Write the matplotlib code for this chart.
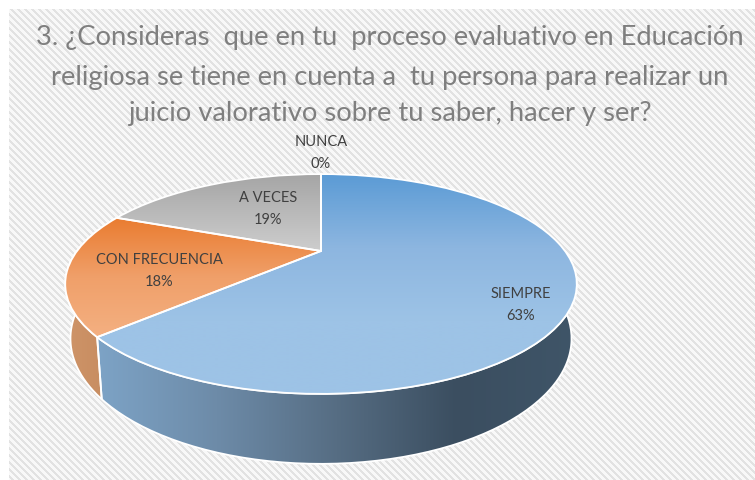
import numpy as np
import matplotlib
matplotlib.use("Agg")
import matplotlib.pyplot as plt
from matplotlib.path import Path
from matplotlib.patches import PathPatch
from matplotlib.transforms import Transform
from matplotlib.colors import LinearSegmentedColormap

categories = ["SIEMPRE", "CON FRECUENCIA", "A VECES", "NUNCA"]
values = [63, 18, 19, 0]
percent_labels = ["63%", "18%", "19%", "0%"]
title_lines = ["3. ¿Consideras  que en tu  proceso evaluativo en Educación",
               "religiosa se tiene en cuenta a  tu persona para realizar un",
               "juicio valorativo sobre tu saber, hacer y ser?"]

W, H = 755, 481
plt.rcParams['font.family'] = ['Lato', 'DejaVu Sans']
fig = plt.figure(figsize=(W / 100, H / 100), dpi=100)
ax = fig.add_axes([0, 0, 1, 1])


class Persp(Transform):
    """Maps the unit disc of the pie to pixel coordinates, tilted with perspective."""
    input_dims = output_dims = 2

    def __init__(self, cx, cy, a, b, k):
        super().__init__()
        self.p = (cx, cy, a, b, k)

    def transform_non_affine(self, xy):
        cx, cy, a, b, k = self.p
        xy = np.asarray(xy, float)
        d = 1 + k * xy[:, 1]
        return np.column_stack([cx + a * xy[:, 0] / d, cy - b * xy[:, 1] / d])


top_T = Persp(321, 252, 244, 100, 0.30)
low_T = Persp(321, 302, 239, 114, 0.30)

# top faces, from the library's pie
wedges, _ = ax.pie(values, startangle=90, counterclock=False, radius=1,
                   colors=["#5b9bd5", "#ed7d31", "#a5a5a5", "#ffc000"],
                   wedgeprops=dict(edgecolor="white", linewidth=1.3, zorder=5))
ax.set_aspect("auto")
ax.set_frame_on(False)
ax.set_xticks([]); ax.set_yticks([])
ax.set_xlim(0, W)
ax.set_ylim(H, 0)
for w in wedges:
    w.set_transform(top_T + ax.transData)
    w.set_facecolor("none")


def gradient(colors, extent, clip, horizontal=False, z=4):
    cmap = LinearSegmentedColormap.from_list("g", colors)
    g = np.linspace(0, 1, 256)
    g = g[None, :] if horizontal else g[:, None]
    im = ax.imshow(g, cmap=cmap, extent=extent, aspect="auto", zorder=z, interpolation="bilinear")
    im.set_clip_path(clip)


# page background: white margin, stripes inside
yy, xx = np.mgrid[0:H, 0:W]
stripes = np.where(((xx - yy) % 7) < 3, 0.885, 0.97)
stripes[:10, :] = 1
stripes[:, :9] = 1
ax.imshow(stripes, cmap="gray", vmin=0, vmax=1, extent=(0, W, H, 0), aspect="auto",
          zorder=0, interpolation="nearest")

# side walls, following the slices
fractions = np.cumsum([0] + values) / sum(values)
angles = 2 * np.pi * fractions


def wall(a0, a1):
    t = np.linspace(a0, a1, 120)
    unit = np.column_stack([np.sin(t), np.cos(t)])
    upper = top_T.transform_non_affine(unit)
    lower = low_T.transform_non_affine(unit)[::-1]
    return Path(np.vstack([upper, lower, upper[:1]]))


side_colors = [["#7da3c6", "#6d8ba8", "#566d83", "#3b4e60", "#3f5568"],
               ["#cf9468", "#c48a5e"]]
for i, cols in enumerate(side_colors):
    start = max(angles[i], np.pi / 2)
    p = wall(start, angles[i + 1])
    xs = p.vertices[:, 0]
    patch = PathPatch(p, facecolor="none", edgecolor="white", linewidth=1.3, zorder=3)
    ax.add_patch(patch)
    gradient(cols, (xs.min(), xs.max(), H, 0), patch, horizontal=True, z=2)

# top-face gradients, each across its own slice height
face_colors = [["#5b9bd5", "#8db6e0", "#9dc3e6", "#9dc3e6"],
               ["#e97a2d", "#f0a06a", "#f4b183"],
               ["#a5a5a5", "#cdcdcd"]]
face_spans = [(395, 175), (342, 215), (252, 175)]
for w, cols, (y1, y0) in zip(wedges, face_colors, face_spans):
    gradient(cols, (0, W, y1, y0), w, z=4)
ax.set_xlim(0, W)
ax.set_ylim(H, 0)

# text
for line, y in zip(title_lines, (37, 77, 114)):
    ax.text(390, y, line, ha="center", va="center", fontsize=19.7, color="#7f7f7f", zorder=8)

label_pos = [(521, 305), (159, 271), (268, 209), (321, 153)]
for name, pct, (x, y) in zip(categories, percent_labels, label_pos):
    ax.text(x, y, f"{name}\n{pct}", ha="center", va="center", fontsize=10.5,
            color="#404040", linespacing=1.65, zorder=8)

fig.savefig("out.png", dpi=100)
